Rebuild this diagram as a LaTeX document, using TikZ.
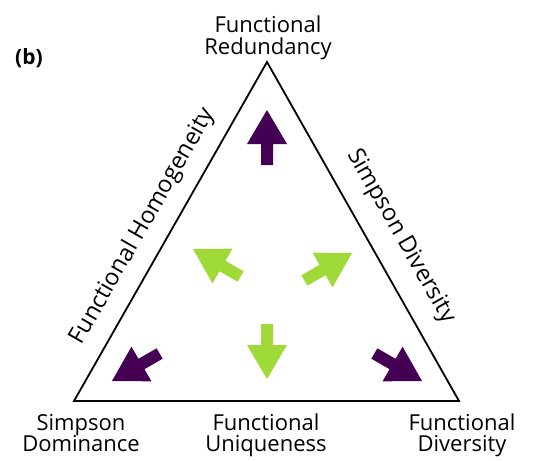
\documentclass[tikz,border=0pt]{standalone}
\usepackage{fontspec}
\setmainfont{Open Sans}
\definecolor{vpurple}{HTML}{440154}
\definecolor{vgreen}{HTML}{A0DA39}
\newcommand\fatarrow[3]{\fill[#3, shift={(#1)}, rotate=#2] (0,0) -- (-34,20) -- (-34,6) -- (-55,6) -- (-55,-6) -- (-34,-6) -- (-34,-20) -- cycle;}
\begin{document}
\begin{tikzpicture}[x=1pt,y=-1pt,
  lbl/.style={font=\fontsize{22}{21.6}\selectfont, inner sep=0pt, align=center, anchor=base},
  sidelbl/.style={font=\fontsize{23.5}{24}\selectfont, inner sep=0pt, anchor=base},
  edge/.style={line width=1.8pt, line join=miter}]
\useasboundingbox[fill=white] (0,0) rectangle (534,460);
\coordinate (T) at (267,62);
\coordinate (L) at (74,401);
\coordinate (R) at (459,401);
\draw[edge] (T) -- (L) -- (R) -- cycle;
\node[font=\fontsize{21}{22}\selectfont\bfseries, inner sep=0pt] (b) at (29,58) {(b)};
\node[lbl] (top) at (268,54.3) {Functional\\Redundancy};
\node[lbl] (bl) at (81,451.7) {Simpson\\Dominance};
\node[lbl] (bm) at (266,451.7) {Functional\\Uniqueness};
\node[lbl] (br) at (462,451.7) {Functional\\Diversity};
\node[sidelbl, rotate=60.3] (lh) at (148.2,229.6) {Functional Homogeneity};
\node[sidelbl, rotate=-60.4] (rs) at (395.8,239.2) {Simpson Diversity};
\fatarrow{267,110}{90}{vpurple}
\fatarrow{112,381}{210}{vpurple}
\fatarrow{422,381}{-30}{vpurple}
\fatarrow{267,379}{270}{vgreen}
\fatarrow{193,249}{150}{vgreen}
\fatarrow{352,253}{30}{vgreen}
\end{tikzpicture}
\end{document}
